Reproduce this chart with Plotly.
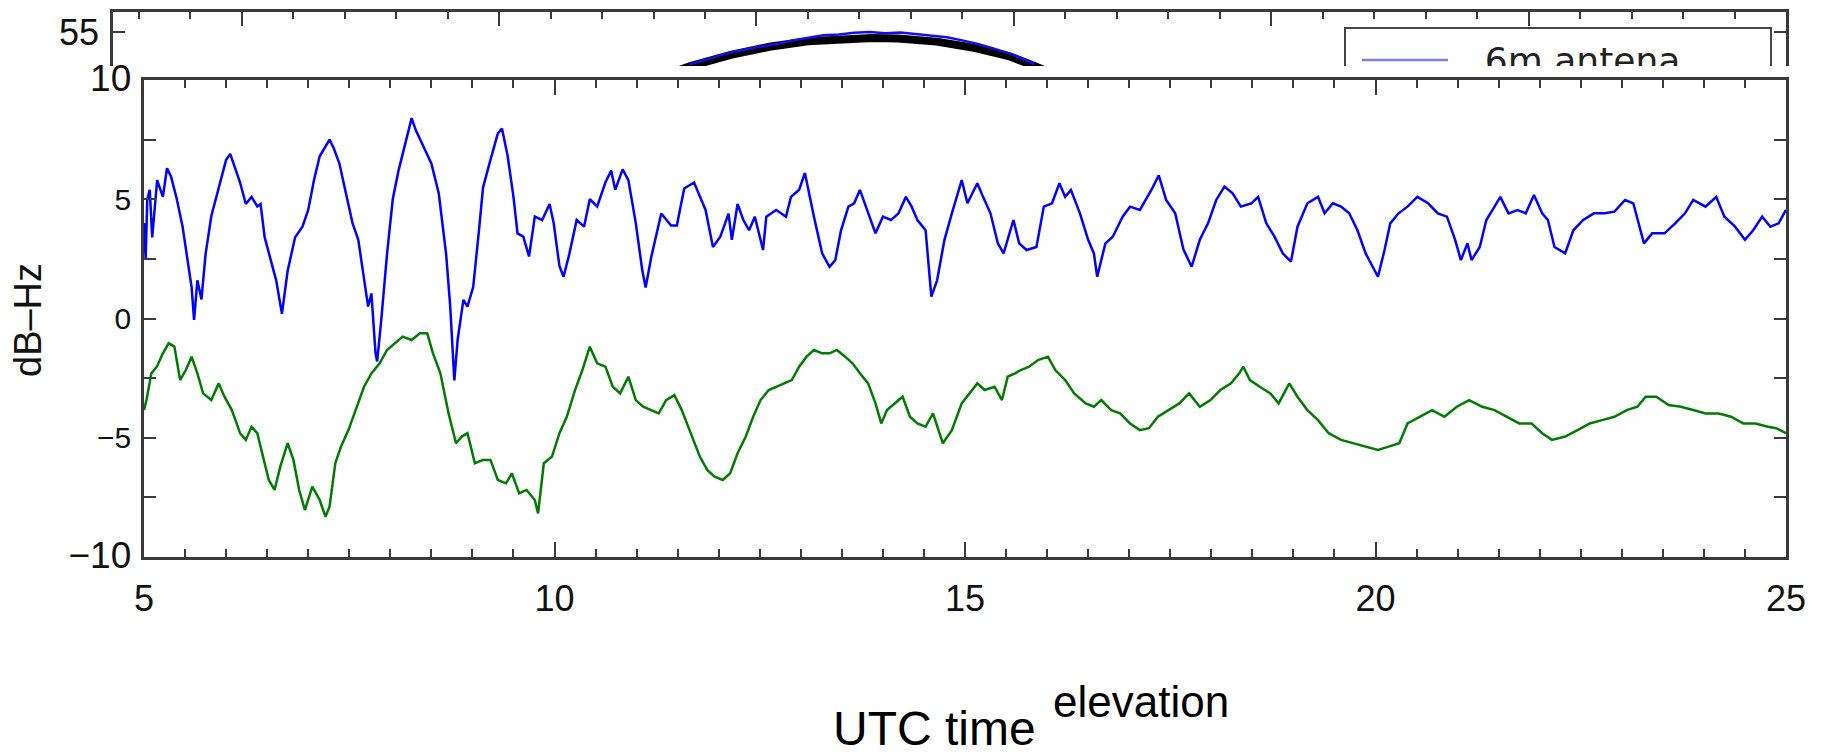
import plotly.graph_objects as go

# ---------------- main panel: C/N0 difference vs UTC time ----------------
blue_t = [5.00, 5.02, 5.04, 5.07, 5.10, 5.16, 5.23, 5.28, 5.33, 5.40, 5.47, 5.54, 5.58, 5.61, 5.65, 5.70,
          5.75, 5.82, 5.91, 6.00, 6.05, 6.10, 6.17, 6.24, 6.31, 6.38, 6.42, 6.47, 6.54, 6.61, 6.68, 6.75,
          6.84, 6.93, 7.00, 7.07, 7.14, 7.26, 7.31, 7.38, 7.45, 7.54, 7.61, 7.68, 7.73, 7.77, 7.82, 7.84,
          7.89, 7.96, 8.03, 8.10, 8.19, 8.26, 8.31, 8.40, 8.50, 8.59, 8.68, 8.73, 8.78, 8.82, 8.89, 8.94,
          9.01, 9.08, 9.13, 9.22, 9.31, 9.36, 9.43, 9.50, 9.55, 9.62, 9.69, 9.76, 9.85, 9.94, 9.99, 10.06,
          10.11, 10.18, 10.27, 10.36, 10.43, 10.52, 10.62, 10.69, 10.74, 10.83, 10.90, 10.99, 11.07, 11.11,
          11.18, 11.30, 11.42, 11.49, 11.58, 11.70, 11.77, 11.84, 11.93, 12.02, 12.12, 12.16, 12.23, 12.30,
          12.37, 12.44, 12.54, 12.58, 12.70, 12.82, 12.88, 12.98, 13.05, 13.09, 13.16, 13.26, 13.35, 13.42,
          13.49, 13.58, 13.65, 13.72, 13.82, 13.91, 14.00, 14.10, 14.19, 14.28, 14.35, 14.42, 14.52, 14.59,
          14.66, 14.75, 14.84, 14.96, 15.03, 15.15, 15.22, 15.31, 15.40, 15.47, 15.59, 15.66, 15.75, 15.87,
          15.96, 16.06, 16.15, 16.22, 16.29, 16.40, 16.50, 16.57, 16.61, 16.71, 16.80, 16.92, 17.01, 17.13,
          17.27, 17.36, 17.45, 17.56, 17.66, 17.76, 17.86, 17.96, 18.06, 18.16, 18.26, 18.36, 18.49, 18.57,
          18.67, 18.77, 18.87, 18.97, 19.05, 19.17, 19.30, 19.38, 19.48, 19.58, 19.68, 19.78, 19.88, 19.98,
          20.03, 20.11, 20.18, 20.28, 20.39, 20.51, 20.64, 20.76, 20.87, 20.97, 21.04, 21.12, 21.17, 21.27,
          21.35, 21.45, 21.52, 21.62, 21.73, 21.83, 21.93, 22.03, 22.10, 22.18, 22.31, 22.41, 22.53, 22.66,
          22.79, 22.91, 23.04, 23.14, 23.22, 23.27, 23.37, 23.52, 23.65, 23.77, 23.87, 24.02, 24.15, 24.25,
          24.38, 24.50, 24.60, 24.71, 24.81, 24.91, 25.00]
blue_db = [4.0, 2.5, 5.0, 5.4, 3.4, 5.8, 5.1, 6.3, 5.95, 5.0, 3.85, 2.2, 1.3, -0.06, 1.6, 0.8,
           2.7, 4.3, 5.5, 6.65, 6.9, 6.4, 5.7, 4.8, 5.1, 4.7, 4.8, 3.4, 2.45, 1.6, 0.2, 2.0,
           3.4, 3.85, 4.55, 5.8, 6.8, 7.5, 7.15, 6.5, 5.4, 4.0, 3.3, 1.6, 0.5, 1.05, -1.45, -1.8,
           -0.06, 2.7, 5.0, 6.2, 7.5, 8.4, 7.9, 7.2, 6.5, 5.25, 2.7, 0.5, -2.6, -0.9, 0.78, 0.5,
           1.33, 3.7, 5.5, 6.65, 7.76, 7.97, 6.8, 5.1, 3.57, 3.43, 2.6, 4.27, 4.13, 4.8, 4.0, 2.2,
           1.75, 2.7, 4.13, 3.85, 5.0, 4.7, 5.7, 6.2, 5.4, 6.25, 5.8, 4.0, 2.0, 1.3,
           2.6, 4.4, 3.9, 3.9, 5.45, 5.7, 5.15, 4.55, 3.0, 3.43, 4.4, 3.3, 4.8, 4.13,
           3.7, 4.27, 2.87, 4.27, 4.55, 4.27, 5.1, 5.4, 6.1, 5.4, 4.27, 2.73, 2.17, 2.45,
           3.7, 4.69, 4.83, 5.39, 4.41, 3.57, 4.27, 4.13, 4.41, 5.1, 4.69, 4.13, 3.7, 0.92,
           1.6, 3.3, 4.41, 5.8, 4.83, 5.67, 5.1, 4.41, 3.15, 2.73, 4.13, 3.15, 2.87, 3.0,
           4.69, 4.83, 5.67, 5.1, 5.39, 4.41, 3.3, 2.73, 1.75, 3.15, 3.43, 4.27, 4.69, 4.55,
           5.39, 6.0, 4.97, 4.41, 2.9, 2.17, 3.3, 3.99, 4.97, 5.53, 5.25, 4.69, 4.83, 5.1,
           3.99, 3.43, 2.73, 2.38, 3.85, 4.83, 5.1, 4.41, 4.83, 4.69, 4.41, 3.7, 2.73, 2.03,
           1.75, 2.87, 3.99, 4.41, 4.69, 5.1, 4.83, 4.41, 4.27, 3.3, 2.45, 3.15, 2.45, 3.0,
           4.13, 4.69, 5.1, 4.41, 4.55, 4.41, 5.18, 4.41, 4.13, 3.0, 2.73, 3.7, 4.13, 4.41,
           4.41, 4.48, 4.97, 4.83, 3.85, 3.15, 3.57, 3.57, 3.99, 4.41, 4.97, 4.69, 5.1, 4.27,
           3.85, 3.3, 3.7, 4.27, 3.85, 3.99, 4.55]

green_t = [5.00, 5.03, 5.09, 5.16, 5.23, 5.30, 5.37, 5.44, 5.51, 5.58, 5.65, 5.72, 5.82, 5.91, 5.98, 6.07,
           6.17, 6.24, 6.31, 6.38, 6.45, 6.52, 6.59, 6.66, 6.75, 6.82, 6.89, 6.96, 7.05, 7.14, 7.21, 7.26,
           7.33, 7.40, 7.49, 7.59, 7.68, 7.77, 7.87, 7.96, 8.05, 8.15, 8.26, 8.36, 8.45, 8.52, 8.61, 8.71,
           8.80, 8.87, 8.94, 9.03, 9.13, 9.22, 9.31, 9.41, 9.48, 9.57, 9.66, 9.76, 9.80, 9.87, 9.97, 10.06,
           10.15, 10.25, 10.34, 10.43, 10.52, 10.62, 10.71, 10.80, 10.90, 10.99, 11.08, 11.18, 11.27, 11.36,
           11.46, 11.55, 11.67, 11.77, 11.86, 11.95, 12.05, 12.14, 12.23, 12.33, 12.42, 12.51, 12.61, 12.70,
           12.79, 12.89, 12.98, 13.07, 13.16, 13.26, 13.35, 13.44, 13.54, 13.63, 13.72, 13.82, 13.91, 13.98,
           14.05, 14.14, 14.24, 14.33, 14.42, 14.52, 14.61, 14.73, 14.84, 14.96, 15.05, 15.15, 15.24, 15.36,
           15.45, 15.52, 15.61, 15.68, 15.78, 15.89, 16.01, 16.10, 16.22, 16.33, 16.47, 16.57, 16.66, 16.78,
           16.89, 17.01, 17.13, 17.24, 17.35, 17.48, 17.61, 17.73, 17.86, 17.99, 18.11, 18.24, 18.34, 18.39,
           18.47, 18.59, 18.72, 18.82, 18.95, 19.05, 19.17, 19.30, 19.43, 19.58, 19.73, 19.88, 20.03, 20.16,
           20.29, 20.39, 20.54, 20.69, 20.84, 20.99, 21.14, 21.30, 21.45, 21.60, 21.75, 21.90, 22.03, 22.15,
           22.31, 22.46, 22.61, 22.76, 22.91, 23.06, 23.19, 23.29, 23.42, 23.57, 23.72, 23.87, 24.02, 24.18,
           24.33, 24.48, 24.63, 24.78, 24.88, 25.00]
green_db = [-3.84, -3.42, -2.3, -2.0, -1.46, -1.04, -1.18, -2.58, -2.16, -1.6, -2.3, -3.14, -3.42, -2.72, -3.28, -3.84,
            -4.81, -5.09, -4.54, -4.81, -5.79, -6.77, -7.19, -6.21, -5.23, -5.93, -7.19, -8.03, -7.05, -7.61, -8.31, -7.89,
            -6.07, -5.37, -4.68, -3.7, -2.86, -2.3, -1.88, -1.32, -1.04, -0.76, -0.9, -0.62, -0.62, -1.46, -2.3, -3.98,
            -5.23, -4.95, -4.81, -6.07, -5.93, -5.93, -6.77, -6.91, -6.49, -7.33, -7.19, -7.61, -8.17, -6.07, -5.79, -4.81,
            -4.12, -3.0, -2.16, -1.18, -1.88, -2.02, -2.86, -3.14, -2.44, -3.42, -3.7, -3.84, -3.98, -3.42,
            -3.21, -3.84, -4.9, -5.79, -6.35, -6.63, -6.77, -6.49, -5.65, -4.95, -4.12, -3.42, -3.0, -2.86,
            -2.72, -2.58, -2.02, -1.6, -1.32, -1.46, -1.46, -1.32, -1.6, -1.88, -2.3, -2.72, -3.56, -4.4,
            -3.84, -3.56, -3.28, -4.12, -4.4, -4.54, -3.98, -5.23, -4.68, -3.56, -3.14, -2.72, -3.0, -2.86,
            -3.42, -2.44, -2.3, -2.16, -2.02, -1.74, -1.6, -2.16, -2.58, -3.14, -3.56, -3.7, -3.42, -3.84,
            -3.98, -4.4, -4.68, -4.6, -4.12, -3.84, -3.56, -3.14, -3.7, -3.42, -3.0, -2.72, -2.3, -2.02,
            -2.58, -2.86, -3.14, -3.56, -2.72, -3.28, -3.84, -4.26, -4.81, -5.09, -5.23, -5.37, -5.51, -5.37,
            -5.23, -4.4, -4.12, -3.84, -4.12, -3.7, -3.42, -3.7, -3.84, -4.12, -4.4, -4.4, -4.81, -5.09,
            -4.95, -4.68, -4.4, -4.26, -4.12, -3.84, -3.7, -3.28, -3.28, -3.63, -3.7, -3.84, -3.98, -3.98,
            -4.12, -4.4, -4.4, -4.54, -4.6, -4.81]

y_ticks = [-10, -7.5, -5, -2.5, 0, 2.5, 5, 7.5, 10]
y_tick_text = ['<span style="font-size:37px">\u221210</span>', '', '\u22125', '', '0', '', '5', '',
               '<span style="font-size:37px">10</span>']
x_ticks = [5, 10, 15, 20, 25]

# ---------------- upper panel (partly covered) ----------------
elev_x = [2.05, 2.24, 2.40, 2.55, 2.70, 2.85, 2.95, 3.05, 3.20, 3.35, 3.48, 3.58, 3.75]
elev_deg = [42.0, 46.4, 49.3, 51.3, 52.7, 53.4, 53.5, 53.4, 52.6, 51.0, 49.0, 46.5, 42.0]
ant6_x = [2.24, 2.40, 2.50, 2.58, 2.64, 2.70, 2.76, 2.82, 2.88, 2.94, 3.00, 3.06, 3.12, 3.18, 3.24,
          3.30, 3.36, 3.42, 3.50, 3.58]
ant6_deg = [46.9, 49.9, 51.2, 52.0, 52.9, 53.6, 54.2, 54.4, 54.8, 55.0, 54.7, 54.9, 54.5, 54.1, 53.7,
            52.9, 52.0, 50.9, 49.3, 47.0]
upper_y_ticks = [55]
legend_label = "6m antena"

W, H = 1822, 754


def px(x):
    return x / W


def py(y):
    return 1 - y / H


FONT = "Liberation Sans, Arial, sans-serif"
AXCOL = "#3a3a3a"

fig = go.Figure()

# upper panel traces (clipped by their own subplot)
fig.add_trace(go.Scatter(x=elev_x, y=elev_deg, mode="lines", line=dict(color="black", width=8),
                         xaxis="x2", yaxis="y2", showlegend=False, hoverinfo="skip"))
fig.add_trace(go.Scatter(x=ant6_x, y=ant6_deg, mode="lines", line=dict(color="#1010ee", width=2.5),
                         xaxis="x2", yaxis="y2", showlegend=False, hoverinfo="skip"))
fig.add_trace(go.Scatter(x=[5.33], y=[47.0], mode="text", text=[legend_label], textposition="middle right",
                         textfont=dict(family="DejaVu Sans", size=36, color="#222"),
                         xaxis="x2", yaxis="y2", showlegend=False, hoverinfo="skip"))

# main panel traces
fig.add_trace(go.Scatter(x=blue_t, y=blue_db, mode="lines", line=dict(color="#0000ff", width=2.5),
                         xaxis="x", yaxis="y", showlegend=False))
fig.add_trace(go.Scatter(x=green_t, y=green_db, mode="lines", line=dict(color="#007a00", width=2.5),
                         xaxis="x", yaxis="y", showlegend=False))

fig.update_layout(
    width=W, height=H,
    margin=dict(l=0, r=0, t=0, b=0, autoexpand=False),
    paper_bgcolor="white", plot_bgcolor="rgba(0,0,0,0)",
    font=dict(family=FONT, color="#111"),
    xaxis=dict(domain=[px(144), px(1786)], range=[5, 25], anchor="y",
               tickvals=x_ticks, ticks="inside", ticklen=15, tickwidth=1.5, tickcolor=AXCOL,
               minor=dict(dtick=0.5, tick0=5, ticks="inside", ticklen=8, tickwidth=1.5, tickcolor=AXCOL),
               showline=True, linewidth=2.5, linecolor=AXCOL, mirror="ticks", ticklabelstandoff=8,
               showgrid=False, zeroline=False, tickfont=dict(size=36, family=FONT)),
    yaxis=dict(domain=[py(557), py(80)], range=[-10, 10], anchor="x",
               tickvals=y_ticks, ticktext=y_tick_text, ticks="inside", ticklen=12, tickwidth=1.5,
               tickcolor=AXCOL, showline=True, linewidth=2.5, linecolor=AXCOL, mirror="ticks",
               ticklabelstandoff=4,
               showgrid=False, zeroline=False, tickfont=dict(size=30, family=FONT)),
    xaxis2=dict(domain=[px(113), px(1786)], range=[0, 6.5], anchor="y2", side="top",
                tickvals=[0.5, 1.5, 2.5, 3.5, 4.5, 5.5, 6.5], showticklabels=False,
                ticks="inside", ticklen=14, tickwidth=1.5, tickcolor=AXCOL,
                minor=dict(dtick=0.2, tick0=0.1, ticks="inside", ticklen=7, tickwidth=1.5, tickcolor=AXCOL),
                showline=True, linewidth=2.5, linecolor=AXCOL, mirror=False,
                showgrid=False, zeroline=False),
    yaxis2=dict(domain=[py(66), py(12)], range=[46.5, 60], anchor="x2",
                tickvals=upper_y_ticks, ticks="inside", ticklen=12, tickwidth=1.5, tickcolor=AXCOL,
                showline=True, linewidth=2.5, linecolor=AXCOL, mirror="ticks", ticklabelstandoff=4,
                showgrid=False, zeroline=False, tickfont=dict(size=36, family=FONT)),
    shapes=[
        # legend frame of the upper panel (runs under the lower panel)
        dict(type="path", xref="paper", yref="paper",
             path=f"M {px(1345)},{py(66)} L {px(1345)},{py(28)} L {px(1771)},{py(28)} L {px(1771)},{py(66)}",
             line=dict(color="#444", width=2)),
        dict(type="line", xref="paper", yref="paper", x0=px(1362), x1=px(1448), y0=py(60), y1=py(60),
             line=dict(color="rgb(125,125,235)", width=2.5)),
    ],
    annotations=[
        dict(text="dB\u2013Hz", x=px(28), y=py(320), xref="paper", yref="paper", textangle=-90,
             showarrow=False, font=dict(size=38, family=FONT, color="#111"),
             xanchor="center", yanchor="middle"),
        dict(text="UTC time", x=px(934), y=py(757), xref="paper", yref="paper", showarrow=False,
             font=dict(size=48, family=FONT, color="black"), xanchor="center", yanchor="bottom"),
        dict(text="elevation", x=px(1141), y=py(728), xref="paper", yref="paper", showarrow=False,
             font=dict(size=44, family=FONT, color="black"), xanchor="center", yanchor="bottom"),
        dict(text="frequency", x=px(887), y=py(3), xref="paper", yref="paper", showarrow=False,
             font=dict(size=50, family=FONT, color="black"), xanchor="center", yanchor="bottom"),
    ],
)

fig.write_html("out.html")
